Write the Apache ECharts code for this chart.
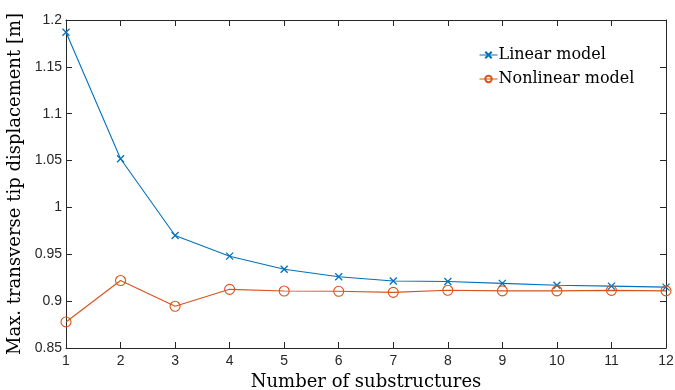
<!DOCTYPE html>
<html><head><meta charset="utf-8">
<script src="https://cdn.jsdelivr.net/npm/echarts@6/dist/echarts.min.js"></script>
<style>html,body{margin:0;padding:0;background:#fff}#c{width:675px;height:390px}</style>
</head><body><div id="c"></div>
<script>
const substructures = [1,2,3,4,5,6,7,8,9,10,11,12];
const linearModel = [1.187,1.052,0.970,0.948,0.934,0.926,0.9215,0.921,0.919,0.917,0.916,0.915];
const nonlinearModel = [0.8778,0.922,0.8945,0.9126,0.9108,0.9105,0.9094,0.9116,0.911,0.911,0.9115,0.911];
const xTickLabels = ['1','2','3','4','5','6','7','8','9','10','11','12'];
const yTickLabels = ['0.85','0.9','0.95','1','1.05','1.1','1.15','1.2'];

const blue = '#0072BD', orange = '#D95319';
const crossPath = 'path://M0,0L10,10M10,0L0,10';
const axisCol = '#262626';
const sans = 'Liberation Sans';
const serif = 'DejaVu Serif';

const chart = echarts.init(document.getElementById('c'), null, {renderer:'canvas'});
const baseX = {type:'value', min:1, max:12, interval:1,
  axisLine:{show:true, onZero:false, lineStyle:{color:axisCol, width:1}},
  axisTick:{show:true, inside:true, length:6, lineStyle:{color:axisCol}},
  splitLine:{show:false}};
const baseY = {type:'value', min:0.85, max:1.2, interval:0.05,
  axisLine:{show:true, onZero:false, lineStyle:{color:axisCol, width:1}},
  axisTick:{show:true, inside:true, length:6, lineStyle:{color:axisCol}},
  splitLine:{show:false}};

chart.setOption({
  animation:false,
  backgroundColor:'#fff',
  grid:{left:66, right:9, top:20, bottom:42, containLabel:false, outerBoundsMode:'none'},
  legend:{
    show:true, left:479, top:47, orient:'vertical', itemGap:8,
    itemWidth:18, itemHeight:8, padding:0,
    lineStyle:{width:1},
    textStyle:{fontFamily:serif, fontSize:16, color:'#000', padding:[0,0,0,-4]},
    data:['Linear model','Nonlinear model']
  },
  xAxis:[
    Object.assign({}, baseX, {position:'bottom',
      name:'Number of substructures', nameLocation:'middle', nameGap:24,
      nameTextStyle:{fontFamily:serif, fontSize:18, color:'#000'},
      axisLabel:{fontFamily:sans, fontSize:14, color:axisCol, margin:6,
        formatter:(v)=>xTickLabels[Math.round(v)-1]}}),
    Object.assign({}, baseX, {position:'top', axisLabel:{show:false}})
  ],
  yAxis:[
    Object.assign({}, baseY, {position:'left',
      name:'Max. transverse tip displacement [m]', nameLocation:'middle', nameGap:38,
      nameTextStyle:{fontFamily:serif, fontSize:18, color:'#000'},
      axisLabel:{fontFamily:sans, fontSize:14, color:axisCol, margin:4,
        formatter:(v)=>{const i=Math.round((v-0.85)/0.05);return yTickLabels[i];}}}),
    Object.assign({}, baseY, {position:'right', axisLabel:{show:false}})
  ],
  series:[
    {name:'Linear model', type:'line', xAxisIndex:0, yAxisIndex:0,
     data:substructures.map((x,i)=>[x,linearModel[i]]),
     symbol:crossPath, symbolSize:7, showAllSymbol:true,
     lineStyle:{color:blue, width:1.1},
     itemStyle:{color:blue, borderColor:blue, borderWidth:1.3}},
    {name:'Nonlinear model', type:'line', xAxisIndex:0, yAxisIndex:0,
     data:substructures.map((x,i)=>[x,nonlinearModel[i]]),
     symbol:'circle', symbolSize:10, showAllSymbol:true,
     lineStyle:{color:orange, width:1.1},
     itemStyle:{color:'rgba(0,0,0,0)', borderColor:orange, borderWidth:1.1}}
  ]
});
</script></body></html>
